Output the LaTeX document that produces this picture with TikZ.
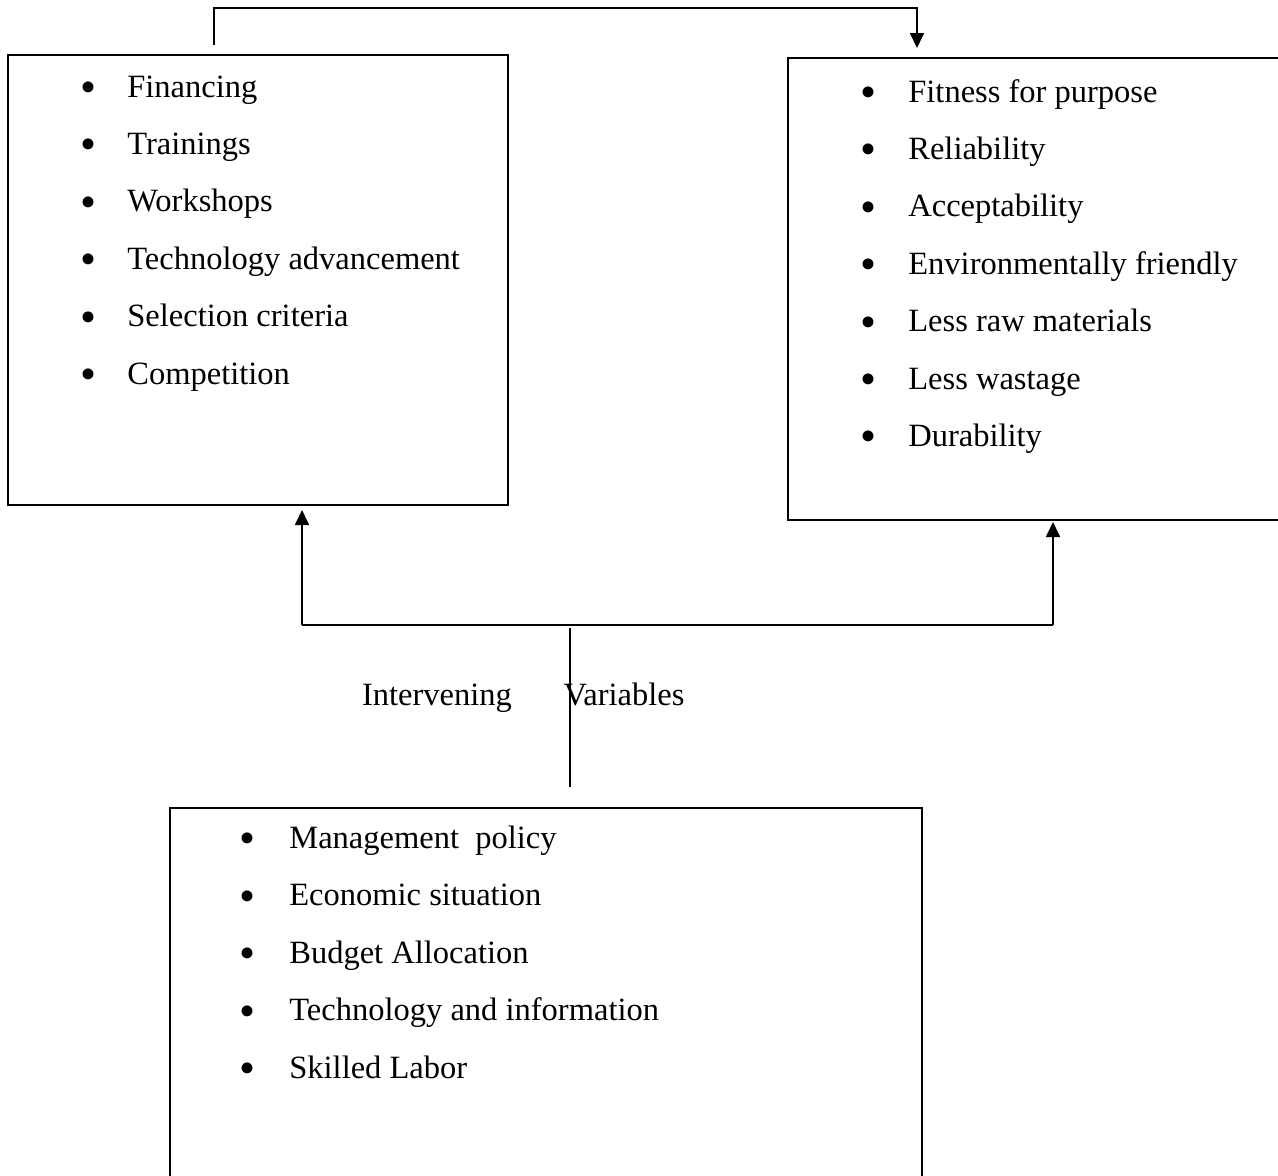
\documentclass[tikz,border=0pt]{standalone}
\usepackage{fontspec}
\setmainfont{Liberation Serif}
\usepackage{tikz}
\usetikzlibrary{calc,arrows.meta}

\tikzset{
  box/.style={draw, line width=1pt, inner sep=0pt, outer sep=0pt},
  item/.style={anchor=base west, inner sep=0pt, font=\fontsize{18.5}{22}\selectfont},
  dot/.style={anchor=base, inner sep=0pt, font=\fontsize{26}{30}\selectfont},
  arr/.style={line width=1pt, -{Triangle[length=0.3cm, width=0.28cm]}}
}

\begin{document}
\begin{tikzpicture}
  \useasboundingbox (0,0) rectangle (25.56,-23.52);

  % Boxes
  \node[box, minimum width=10cm, minimum height=9cm] (indep) at (5.16,-5.6) {};
  \node[box, minimum width=10.04cm, minimum height=9.24cm] (dep) at (20.78,-5.78) {};
  \node[box, minimum width=15.04cm, minimum height=7.84cm] (inter) at (10.92,-20.08) {};

  % Independent variables
  \foreach \txt [count=\i] in {Financing, Trainings, Workshops, Technology advancement, Selection criteria, Competition}
  {
    \node[dot] (indep-b\i) at (1.76, -2.05-1.148*\i+1.148) {\textbullet};
    \node[item] (indep-\i) at (2.54, -1.94-1.148*\i+1.148) {\txt};
  }

  % Dependent variables
  \foreach \txt [count=\i] in {Fitness for purpose, Reliability, Acceptability, Environmentally friendly, Less raw materials, Less wastage, Durability}
  {
    \node[dot] (dep-b\i) at (17.36, -2.15-1.148*\i+1.148) {\textbullet};
    \node[item] (dep-\i) at (18.16, -2.04-1.148*\i+1.148) {\txt};
  }

  % Intervening variables
  \foreach \txt [count=\i] in {Management\ \ policy, Economic situation, Budget Allocation, Technology and information, Skilled Labor}
  {
    \node[dot] (inter-b\i) at (4.94, -17.07-1.15*\i+1.15) {\textbullet};
    \node[item] (inter-\i) at (5.78, -16.96-1.15*\i+1.15) {\txt};
  }

  % Top connector
  \coordinate (top) at (0,-0.16);
  \coordinate (outA) at ([xshift=-0.88cm, yshift=0.2cm]indep.north);
  \coordinate (inB) at ([xshift=-2.44cm, yshift=0.2cm]dep.north);
  \draw[arr] (outA) -- (outA |- top) -| (inB);

  % Intervening links
  \coordinate (hubL) at (6.04,-12.5);
  \coordinate (hubR) at (21.06,-12.5);
  \coordinate (hub) at (11.4,-12.56);
  \draw[line width=1pt] (hubL) -- (hubR);
  \draw[arr, shorten >=0.1cm] (hubL) -- (hubL |- indep.south);
  \draw[arr, shorten >=0.04cm] (hubR) -- (hubR |- dep.south);
  \draw[line width=1pt, shorten >=0.42cm] (hub) -- (hub |- inter.north);

  \node[item, anchor=base] (lblA) at (8.74,-14.1) {Intervening};
  \node[item, anchor=base] (lblB) at (12.48,-14.1) {Variables};
\end{tikzpicture}
\end{document}
